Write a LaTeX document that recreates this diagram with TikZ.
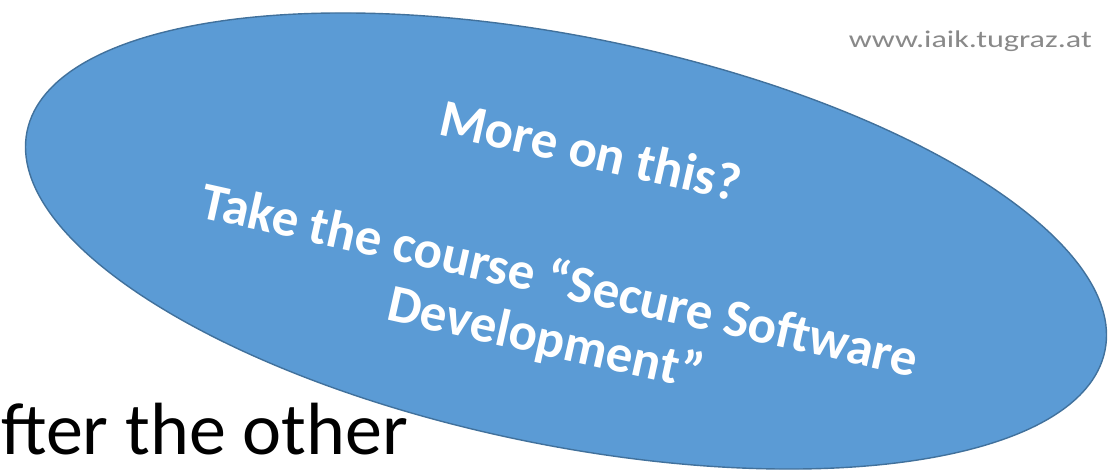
\documentclass[tikz,border=0pt]{standalone}
\usepackage{fontspec}
\setmainfont{Carlito}
\usetikzlibrary{shapes.geometric}
\definecolor{ellfill}{HTML}{5B9BD5}
\definecolor{ellline}{HTML}{41719C}
\definecolor{urlgray}{RGB}{137,137,137}
\tikzset{
  bubble/.style={ellipse, draw=ellline, fill=ellfill, line width=1.4pt, inner sep=0pt,
    minimum width=1100pt, minimum height=408pt},
  bubbletext/.style={text=white, font=\bfseries\fontsize{53}{64}\selectfont, inner sep=0pt, anchor=base, rotate=-12.6},
}
\begin{document}
\begin{tikzpicture}[x=1pt,y=-1pt]
\useasboundingbox (0,0) rectangle (1110,472);
\node[anchor=base east, text=urlgray, font=\fontsize{24}{28}\selectfont, inner sep=0pt] (url) at (1092,47) {\scalebox{1.34}[1]{www.iaik.tugraz.at}};
\node[anchor=base west, font=\fontsize{74}{88}\selectfont, inner sep=0pt] (body) at (1,454) {fter the other};
\node[bubble, rotate=-11.5] (e) at (566,241) {};
\node[bubbletext] (t1) at (587,168) {More on this?};
\node[bubbletext] (t2) at (556,297) {Take the course “Secure Software};
\node[bubbletext] (t3) at (542,355) {Development”};
\end{tikzpicture}
\end{document}
